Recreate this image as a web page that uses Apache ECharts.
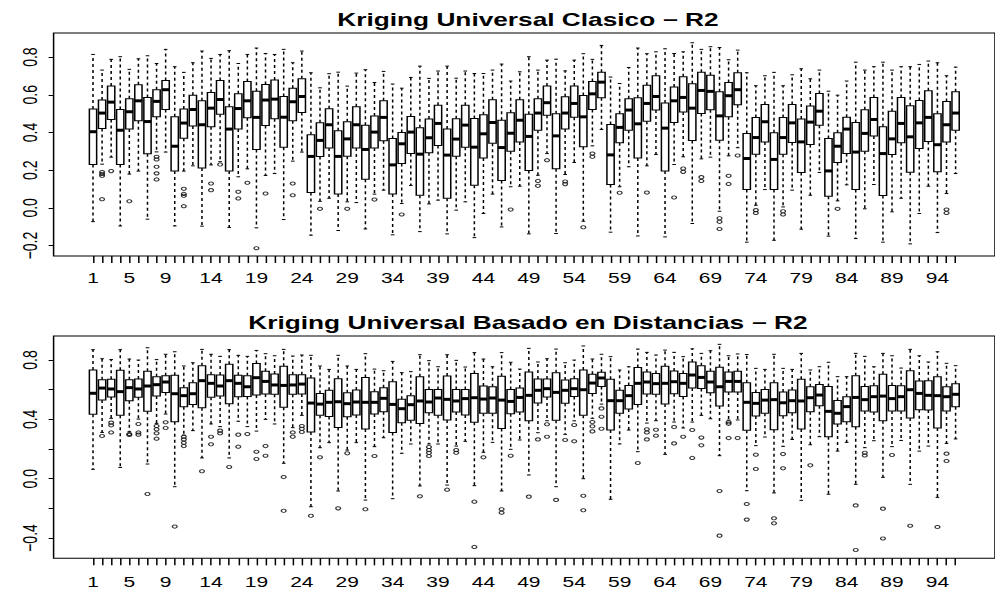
<!DOCTYPE html>
<html><head><meta charset="utf-8">
<script src="https://cdn.jsdelivr.net/npm/echarts@6/dist/echarts.min.js"></script>
<style>
html,body{margin:0;padding:0;background:#fff;overflow:hidden;width:995px;height:590px}
#c{width:663px;height:590px;transform-origin:0 0;}
</style>
</head><body><div id="c"></div><script>
// ---------- data ----------
const titleTop = 'Kriging Universal Clasico \u2212 R2';
const titleBottom = 'Kriging Universal Basado en Distancias \u2212 R2';

const xLabelValues = [1,5,9,14,19,24,29,34,39,44,49,54,59,64,69,74,79,84,89,94];
const yTicksTop = [-0.2,0.0,0.2,0.4,0.6,0.8];
const yLabelsTop = [-0.2,0.0,0.2,0.4,0.6,0.8];
const yTicksBottom = [-0.4,-0.2,0.0,0.2,0.4,0.6,0.8];
const yLabelsBottom = [-0.4,0.0,0.4,0.8];

// Panel 1: Kriging Universal Clasico
const topHigh = [0.814,0.731,0.788,0.802,0.735,0.791,0.807,0.766,0.841,0.749, 0.719,0.770,0.832,0.793,0.814,0.834,0.766,0.814,0.848,0.819, 0.814,0.841,0.770,0.832,0.717,0.637,0.712,0.720,0.646,0.715, 0.733,0.665,0.724,0.657,0.635,0.692,0.752,0.687,0.726,0.752, 0.688,0.726,0.713,0.713,0.731,0.763,0.673,0.722,0.802,0.731, 0.784,0.789,0.727,0.784,0.818,0.788,0.862,0.694,0.660,0.745, 0.848,0.818,0.828,0.844,0.819,0.828,0.876,0.841,0.855,0.851, 0.786,0.837,0.717,0.648,0.701,0.719,0.648,0.706,0.738,0.685, 0.731,0.619,0.598,0.673,0.773,0.731,0.749,0.773,0.731,0.749, 0.749,0.761,0.779,0.770,0.701,0.747];
const topQ3 = [0.524,0.572,0.646,0.522,0.579,0.653,0.586,0.627,0.676,0.483, 0.524,0.598,0.568,0.612,0.676,0.536,0.605,0.671,0.619,0.655, 0.678,0.591,0.634,0.685,0.388,0.451,0.526,0.409,0.457,0.536, 0.439,0.488,0.568,0.368,0.400,0.485,0.425,0.471,0.545,0.418, 0.473,0.545,0.474,0.494,0.573,0.465,0.504,0.573,0.497,0.579, 0.646,0.499,0.589,0.646,0.596,0.671,0.719,0.442,0.499,0.579, 0.584,0.651,0.701,0.556,0.641,0.696,0.658,0.719,0.704,0.616, 0.665,0.717,0.395,0.480,0.549,0.398,0.480,0.549,0.471,0.540, 0.607,0.368,0.398,0.481,0.453,0.520,0.586,0.430,0.512,0.586, 0.542,0.570,0.621,0.499,0.565,0.616];
const topMed = [0.404,0.503,0.561,0.412,0.510,0.568,0.458,0.565,0.627,0.327, 0.450,0.522,0.441,0.529,0.575,0.418,0.527,0.568,0.480,0.572, 0.577,0.481,0.563,0.591,0.273,0.358,0.441,0.273,0.366,0.441, 0.310,0.402,0.480,0.228,0.340,0.402,0.285,0.372,0.448,0.280, 0.365,0.439,0.322,0.393,0.453,0.320,0.396,0.465,0.379,0.503, 0.558,0.382,0.503,0.554,0.483,0.605,0.667,0.281,0.427,0.519, 0.446,0.554,0.591,0.423,0.568,0.586,0.529,0.623,0.618,0.488, 0.595,0.627,0.262,0.373,0.457,0.257,0.373,0.451,0.350,0.455, 0.513,0.196,0.327,0.418,0.296,0.395,0.469,0.288,0.366,0.448, 0.377,0.451,0.480,0.335,0.441,0.503];
const topQ1 = [0.230,0.421,0.469,0.230,0.418,0.462,0.287,0.483,0.522,0.195, 0.370,0.435,0.211,0.430,0.497,0.195,0.418,0.478,0.310,0.437, 0.473,0.322,0.462,0.506,0.081,0.273,0.317,0.074,0.274,0.317, 0.152,0.317,0.356,0.074,0.235,0.288,0.067,0.292,0.331,0.051, 0.274,0.322,0.120,0.265,0.343,0.145,0.301,0.349,0.198,0.412, 0.492,0.207,0.418,0.481,0.324,0.522,0.584,0.124,0.345,0.412, 0.264,0.460,0.519,0.195,0.453,0.508,0.358,0.501,0.520,0.359, 0.483,0.547,0.097,0.285,0.350,0.097,0.285,0.347,0.188,0.336, 0.439,0.062,0.241,0.288,0.097,0.301,0.381,0.065,0.283,0.345, 0.189,0.315,0.352,0.191,0.349,0.412];
const topLow = [-0.073,0.232,0.269,-0.096,0.179,0.195,-0.060,0.297,0.296,-0.096, 0.195,0.223,-0.097,0.228,0.245,-0.104,0.165,0.207,-0.106,0.172, 0.182,-0.062,0.248,0.296,-0.145,0.035,0.051,-0.120,0.032,0.028, -0.112,0.073,0.094,-0.143,0.023,0.119,-0.126,0.021,0.041,-0.138, -0.012,0.032,-0.158,-0.030,0.073,-0.101,0.112,0.115,-0.138,0.173, 0.288,-0.136,0.177,0.241,-0.071,0.329,0.416,-0.129,0.112,0.218, -0.149,0.223,0.283,-0.154,0.230,0.271,-0.083,0.260,0.269,-0.018, 0.276,0.319,-0.182,0.014,0.097,-0.172,0.005,0.094,-0.113,0.067, 0.188,-0.150,0.037,0.122,-0.163,-0.005,0.124,-0.182,-0.021,0.051, -0.191,-0.030,0.115,-0.131,0.076,0.182];
const topOutliers = [[2,0.19],[2,0.18],[2,0.17],[2,0.046],[3,0.195],[5,0.035],[8,0.271],[8,0.257],[8,0.218],[8,0.183],[8,0.151],[11,0.101],[11,0.074],[11,0.064],[11,0.009],[14,0.129],[14,0.094],[15,0.23],[17,0.085],[17,0.05],[18,0.133],[19,-0.214],[20,0.076],[23,0.129],[23,0.067],[26,-0.005],[29,-0.005],[32,0.044],[35,-0.035],[47,-0.009],[50,0.143],[50,0.117],[51,0.253],[53,0.14],[53,0.126],[55,-0.103],[56,0.288],[56,0.271],[59,0.08],[62,0.081],[65,0.055],[66,0.209],[66,0.191],[68,0.163],[68,0.143],[70,-0.055],[70,-0.074],[70,-0.112],[71,0.17],[71,0.127],[72,0.278],[74,-0.012],[74,-0.027],[77,-0.018],[77,-0.035],[83,-0.005],[95,-0.009],[95,-0.027]];

// Panel 2: Kriging Universal Basado en Distancias
const botHigh = [0.870,0.809,0.803,0.870,0.807,0.800,0.883,0.803,0.839,0.856, 0.760,0.782,0.872,0.839,0.825,0.870,0.832,0.825,0.865,0.843, 0.829,0.872,0.827,0.834,0.832,0.760,0.737,0.832,0.760,0.737, 0.843,0.739,0.728,0.791,0.715,0.722,0.836,0.796,0.755,0.836, 0.798,0.753,0.850,0.807,0.755,0.850,0.785,0.739,0.879,0.787, 0.809,0.874,0.782,0.800,0.895,0.807,0.839,0.823,0.733,0.755, 0.874,0.852,0.834,0.867,0.852,0.823,0.876,0.845,0.863,0.906, 0.829,0.841,0.837,0.744,0.737,0.839,0.744,0.737,0.845,0.733, 0.755,0.785,0.688,0.688,0.845,0.825,0.755,0.845,0.829,0.746, 0.872,0.829,0.787,0.856,0.778,0.762];
const botQ3 = [0.733,0.667,0.670,0.731,0.667,0.672,0.724,0.688,0.695,0.697, 0.614,0.647,0.762,0.701,0.699,0.771,0.697,0.695,0.776,0.724, 0.706,0.758,0.701,0.701,0.679,0.575,0.596,0.674,0.580,0.598, 0.683,0.587,0.614,0.654,0.535,0.560,0.688,0.602,0.602,0.692, 0.602,0.602,0.710,0.625,0.620,0.690,0.602,0.611,0.719,0.672, 0.672,0.715,0.665,0.674,0.733,0.704,0.717,0.670,0.596,0.629, 0.749,0.719,0.710,0.758,0.726,0.710,0.787,0.762,0.724,0.751, 0.719,0.724,0.647,0.582,0.602,0.647,0.584,0.598,0.670,0.620, 0.636,0.622,0.528,0.553,0.695,0.622,0.627,0.704,0.629,0.627, 0.728,0.658,0.661,0.688,0.620,0.640];
const botMed = [0.576,0.611,0.605,0.587,0.614,0.605,0.625,0.634,0.652,0.573, 0.560,0.573,0.661,0.643,0.625,0.661,0.643,0.620,0.681,0.656, 0.632,0.629,0.632,0.638,0.510,0.503,0.515,0.519,0.506,0.517, 0.515,0.515,0.542,0.501,0.472,0.499,0.524,0.517,0.544,0.535, 0.524,0.540,0.546,0.537,0.544,0.530,0.521,0.548,0.562,0.596, 0.607,0.582,0.596,0.607,0.600,0.645,0.679,0.526,0.526,0.560, 0.643,0.652,0.641,0.643,0.654,0.643,0.699,0.683,0.652,0.620, 0.656,0.656,0.515,0.508,0.530,0.533,0.512,0.526,0.524,0.546, 0.564,0.454,0.441,0.486,0.548,0.533,0.553,0.557,0.540,0.553, 0.600,0.575,0.562,0.560,0.553,0.569];
const botQ1 = [0.434,0.530,0.551,0.427,0.526,0.549,0.454,0.557,0.582,0.384, 0.485,0.501,0.479,0.549,0.557,0.506,0.553,0.555,0.564,0.571, 0.569,0.481,0.569,0.571,0.315,0.427,0.420,0.346,0.418,0.429, 0.335,0.436,0.452,0.312,0.378,0.394,0.373,0.445,0.427,0.396, 0.450,0.429,0.380,0.441,0.441,0.339,0.438,0.450,0.391,0.510, 0.551,0.394,0.508,0.555,0.427,0.575,0.622,0.328,0.441,0.470, 0.501,0.571,0.569,0.503,0.573,0.555,0.611,0.609,0.580,0.490, 0.584,0.584,0.327,0.423,0.441,0.330,0.425,0.445,0.335,0.452, 0.492,0.283,0.369,0.384,0.351,0.456,0.450,0.391,0.456,0.456, 0.409,0.465,0.463,0.342,0.456,0.485];
const botLow = [0.063,0.312,0.407,0.076,0.317,0.402,0.099,0.373,0.436,-0.054, 0.294,0.324,0.140,0.369,0.351,0.140,0.387,0.351,0.321,0.400, 0.369,0.104,0.344,0.427,-0.189,0.209,0.243,-0.083,0.193,0.243, -0.144,0.216,0.276,-0.135,0.171,0.234,-0.049,0.234,0.234,-0.043, 0.220,0.252,-0.047,0.178,0.245,-0.083,0.198,0.261,0.025,0.310, 0.391,-0.054,0.299,0.390,0.000,0.407,0.503,-0.139,0.234,0.328, 0.182,0.375,0.391,0.164,0.382,0.342,0.382,0.427,0.404,0.155, 0.395,0.396,-0.081,0.223,0.281,-0.096,0.218,0.265,-0.146,0.229, 0.283,-0.105,0.186,0.245,-0.038,0.209,0.256,0.009,0.216,0.258, -0.038,0.186,0.220,-0.126,0.238,0.268];
const botOutliers = [[2,0.288],[3,0.378],[3,0.36],[3,0.312],[5,0.302],[5,0.295],[6,0.369],[6,0.312],[6,0.297],[7,-0.103],[8,0.355],[8,0.333],[8,0.306],[8,0.27],[9,0.38],[9,0.342],[10,-0.323],[11,0.283],[11,0.265],[11,0.243],[11,0.22],[13,0.05],[14,0.283],[14,0.232],[15,0.324],[15,0.306],[16,0.079],[17,0.297],[17,0.216],[18,0.301],[19,0.182],[19,0.133],[20,0.22],[20,0.155],[22,0.011],[22,-0.216],[23,0.312],[23,0.283],[24,0.355],[24,0.337],[24,0.315],[25,-0.25],[26,0.144],[28,-0.2],[29,0.171],[31,-0.206],[32,0.153],[37,-0.119],[38,0.214],[38,0.193],[38,0.175],[38,0.153],[40,-0.074],[41,0.193],[41,0.175],[43,-0.155],[43,-0.46],[44,0.144],[46,-0.206],[46,-0.229],[47,0.155],[49,-0.121],[50,0.265],[51,0.367],[51,0.283],[52,-0.143],[53,0.261],[54,0.362],[54,0.252],[55,-0.115],[55,-0.213],[56,0.382],[56,0.353],[56,0.319],[57,0.474],[57,0.418],[57,0.337],[61,0.106],[62,0.333],[62,0.312],[62,0.265],[63,0.33],[63,0.29],[65,0.348],[65,0.238],[66,0.283],[67,0.328],[67,0.14],[68,0.277],[68,0.225],[70,-0.083],[70,-0.384],[71,0.38],[71,0.37],[71,0.274],[72,0.274],[73,-0.171],[73,-0.276],[74,0.162],[74,0.065],[76,-0.267],[76,-0.301],[77,0.166],[77,0.07],[80,0.09],[85,-0.18],[85,-0.481],[86,0.175],[86,0.157],[88,-0.202],[88,-0.403],[89,0.16],[91,-0.317],[94,-0.326],[95,0.169],[95,0.119]];

// ---------- layout (the reference picture is horizontally stretched) ----------
const INNER_W = 663;
const S = 995 / INNER_W;
const dom = document.getElementById('c');
dom.style.transform = 'scaleX(' + S + ')';
const FONT = "'Liberation Sans', Arial, Helvetica, sans-serif";
const plotLeft = 53.6 / S, plotWidth = (1002.3 - 53.6) / S;
const plotCenter = (53.6 + 1002.3) / 2 / S;

const boxIds = topMed.map((_, i) => i + 1);
function boxRows(lo, q1, md, q3, hi) {
  return boxIds.map((id, i) => [id, lo[i], q1[i], md[i], q3[i], hi[i]]);
}

function renderBox(params, api) {
  const x = api.value(0);
  const pLo = api.coord([x, api.value(1)]);
  const pQ1 = api.coord([x, api.value(2)]);
  const pMd = api.coord([x, api.value(3)]);
  const pQ3 = api.coord([x, api.value(4)]);
  const pHi = api.coord([x, api.value(5)]);
  const unit = api.size([1, 0])[0];
  const hw = unit * 0.4, sw = unit * 0.2;
  const cx = pMd[0];
  const dash = { stroke: '#000', lineWidth: 1, lineDash: [3, 3], fill: null };
  const solid = { stroke: '#000', lineWidth: 1, fill: null };
  return {
    type: 'group',
    children: [
      { type: 'line', shape: { x1: cx, y1: pQ3[1], x2: cx, y2: pHi[1] }, style: dash },
      { type: 'line', shape: { x1: cx, y1: pQ1[1], x2: cx, y2: pLo[1] }, style: dash },
      { type: 'line', shape: { x1: cx - sw, y1: pHi[1], x2: cx + sw, y2: pHi[1] }, style: solid },
      { type: 'line', shape: { x1: cx - sw, y1: pLo[1], x2: cx + sw, y2: pLo[1] }, style: solid },
      { type: 'rect', shape: { x: cx - hw, y: pQ3[1], width: 2 * hw, height: pQ1[1] - pQ3[1] },
        style: { fill: '#fff', stroke: '#000', lineWidth: 1 } },
      { type: 'line', shape: { x1: cx - hw, y1: pMd[1], x2: cx + hw, y2: pMd[1] },
        style: { stroke: '#000', lineWidth: 3 } }
    ]
  };
}

function fmt(v) {
  const s = Math.abs(v).toFixed(1);
  return v < -1e-9 ? '\u2212' + s : s;
}

function xAxisFor(gi, margin) {
  return {
    type: 'value', gridIndex: gi, min: -3.34, max: 100.34, position: 'bottom',
    axisLine: { show: false, onZero: false }, splitLine: { show: false },
    axisTick: { show: true, length: 7, customValues: boxIds, lineStyle: { color: '#000', width: 1 } },
    axisLabel: { show: true, customValues: xLabelValues, fontSize: 14, fontFamily: FONT, color: '#000', margin: margin,
      formatter: v => String(Math.round(v)) }
  };
}
function yAxisFor(gi, min, max, ticks, labels) {
  return {
    type: 'value', gridIndex: gi, min: min, max: max, position: 'left',
    axisLine: { show: false, onZero: false }, splitLine: { show: false },
    axisTick: { show: true, length: 5 / S, customValues: ticks, lineStyle: { color: '#000', width: 1 } },
    axisLabel: { show: true, customValues: labels, rotate: 90, fontSize: 14, fontFamily: FONT, color: '#000', margin: 9,
      formatter: fmt }
  };
}

const chart = echarts.init(dom, null, { renderer: 'svg', width: INNER_W, height: 590 });
chart.setOption({
  animation: false,
  backgroundColor: '#fff',
  title: [
    { text: titleTop, left: plotCenter, top: 11.6, textAlign: 'center', padding: 0,
      textStyle: { fontSize: 17.5, fontWeight: 'bold', fontFamily: FONT, color: '#000' } },
    { text: titleBottom, left: plotCenter, top: 314.5, textAlign: 'center', padding: 0,
      textStyle: { fontSize: 17.5, fontWeight: 'bold', fontFamily: FONT, color: '#000' } }
  ],
  grid: [
    { left: plotLeft, width: plotWidth, top: 33, height: 223, show: true, borderColor: '#000', borderWidth: 1, backgroundColor: 'transparent' },
    { left: plotLeft, width: plotWidth, top: 336, height: 222.3, show: true, borderColor: '#000', borderWidth: 1, backgroundColor: 'transparent' }
  ],
  xAxis: [xAxisFor(0, 15.5), xAxisFor(1, 16.5)],
  yAxis: [
    yAxisFor(0, -0.2554, 0.9278, yTicksTop, yLabelsTop),
    yAxisFor(1, -0.5368, 0.9622, yTicksBottom, yLabelsBottom)
  ],
  series: [
    { type: 'custom', xAxisIndex: 0, yAxisIndex: 0, renderItem: renderBox, encode: { x: 0, y: [1, 2, 3, 4, 5] },
      data: boxRows(topLow, topQ1, topMed, topQ3, topHigh), silent: true, z: 2 },
    { type: 'scatter', xAxisIndex: 0, yAxisIndex: 0, data: topOutliers, symbol: 'circle', symbolSize: 3.2, silent: true, z: 3,
      itemStyle: { color: 'rgba(255,255,255,0)', borderColor: '#000', borderWidth: 0.9 } },
    { type: 'custom', xAxisIndex: 1, yAxisIndex: 1, renderItem: renderBox, encode: { x: 0, y: [1, 2, 3, 4, 5] },
      data: boxRows(botLow, botQ1, botMed, botQ3, botHigh), silent: true, z: 2 },
    { type: 'scatter', xAxisIndex: 1, yAxisIndex: 1, data: botOutliers, symbol: 'circle', symbolSize: 3.2, silent: true, z: 3,
      itemStyle: { color: 'rgba(255,255,255,0)', borderColor: '#000', borderWidth: 0.9 } }
  ]
});
</script></body></html>
